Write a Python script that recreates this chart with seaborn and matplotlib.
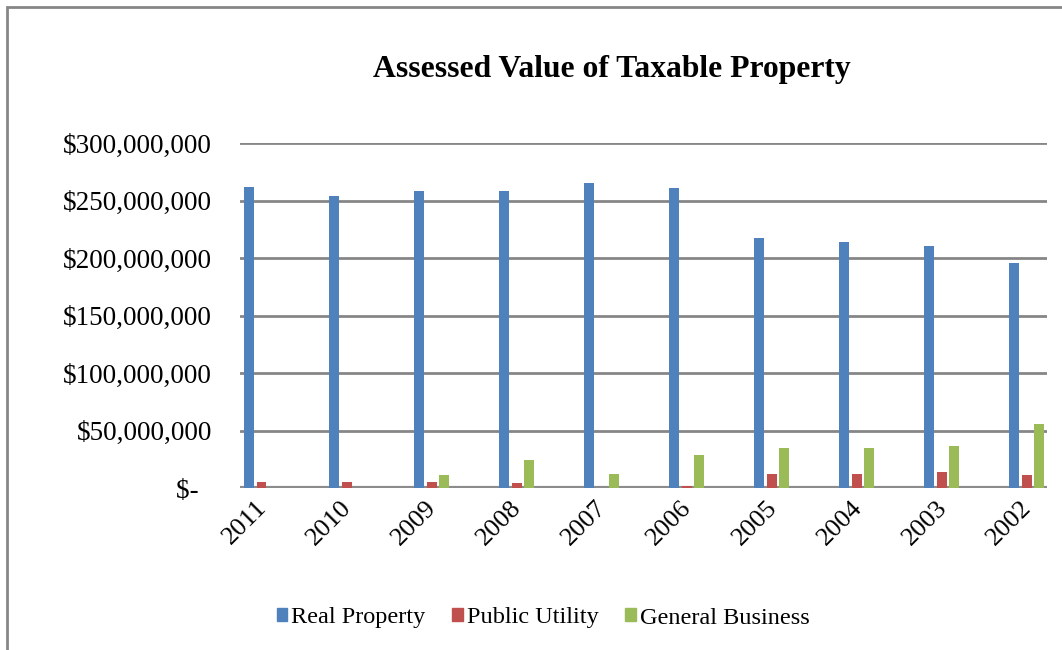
import numpy as np
import matplotlib
matplotlib.use("Agg")
import matplotlib.pyplot as plt
import matplotlib.transforms as mtransforms
import pandas as pd
import seaborn as sns

years = ["2011", "2010", "2009", "2008", "2007", "2006", "2005", "2004", "2003", "2002"]
real_property = [262.0, 254.0, 258.0, 258.0, 265.0, 261.0, 217.0, 214.0, 210.7, 195.4]
public_utility = [5.6, 5.6, 5.3, 4.7, 0.0, 2.0, 12.6, 12.6, 13.5, 11.4]
general_business = [0.0, 0.0, 11.7, 24.0, 12.6, 29.0, 34.8, 35.0, 36.8, 55.3]
series = ["Real Property", "Public Utility", "General Business"]
colors = ["#4f81bd", "#c0504d", "#9bbb59"]
yticks = [0, 50, 100, 150, 200, 250, 300]
ytick_labels = ["$-  ", "$50,000,000", "$100,000,000", "$150,000,000",
                "$200,000,000", "$250,000,000", "$300,000,000"]

df = pd.DataFrame({"Year": years, "Real Property": real_property,
                   "Public Utility": public_utility, "General Business": general_business})
long = df.melt(id_vars="Year", var_name="Series", value_name="Value")
long["Value"] = long["Value"] * 1e6

sns.set_style("white")
plt.rcParams["font.family"] = ["Liberation Serif", "DejaVu Serif"]
plt.rcParams["text.color"] = "black"
plt.rcParams["xtick.color"] = "black"
plt.rcParams["ytick.color"] = "black"

fig = plt.figure(figsize=(10.62, 6.5), dpi=100)
W, H = 1062, 650
ax = fig.add_axes([240 / W, 1 - 488 / H, 807 / W, 345 / H])

sns.barplot(data=long, x="Year", y="Value", hue="Series", hue_order=series,
            palette=colors, width=0.44, gap=0.2, saturation=1, ax=ax,
            edgecolor="none", legend=False, zorder=3)

ax.set_xlim(-0.253, 9.24)
ax.set_ylim(0, 300e6)
ax.set_yticks([v * 1e6 for v in yticks])
ax.set_yticklabels(ytick_labels, fontsize=19.5)
ax.yaxis.grid(True, color="#868686", linewidth=2, zorder=0)
ax.set_axisbelow(True)
for s in ["top", "right", "left", "bottom"]:
    ax.spines[s].set_visible(False)
ax.axhline(0, color="#8c8c8c", linewidth=3, zorder=2)
ax.tick_params(axis="y", length=0, pad=20)
ax.tick_params(axis="x", length=0, pad=6)
ax.set_xlabel("")
ax.set_ylabel("")

# rotated year labels, nudged left a bit
offset = mtransforms.ScaledTranslation(-6 / 100, 0, fig.dpi_scale_trans)
for lab in ax.get_xticklabels():
    lab.set_rotation(45)
    lab.set_ha("right")
    lab.set_va("top")
    lab.set_rotation_mode("anchor")
    lab.set_fontsize(19)
    lab.set_transform(lab.get_transform() + offset)

fig.text(612 / W, 1 - 70 / H, "Assessed Value of Taxable Property", ha="center",
         va="center", fontsize=22.8, fontweight="bold")

handles = [plt.Rectangle((0, 0), 1, 1, color=c) for c in colors]
fig.legend(handles, series, loc="center", bbox_to_anchor=(543 / W, 1 - 618 / H),
           ncol=3, frameon=False, fontsize=17.5, handlelength=0.45, handleheight=0.45,
           handletextpad=0.15, columnspacing=1.1)

border = plt.Rectangle((7 / W, -0.1), 1.2, 1 - 7 / H + 0.1, transform=fig.transFigure,
                       fill=False, edgecolor="#868686", linewidth=2)
fig.patches.append(border)

fig.savefig("out.png", dpi=100)
